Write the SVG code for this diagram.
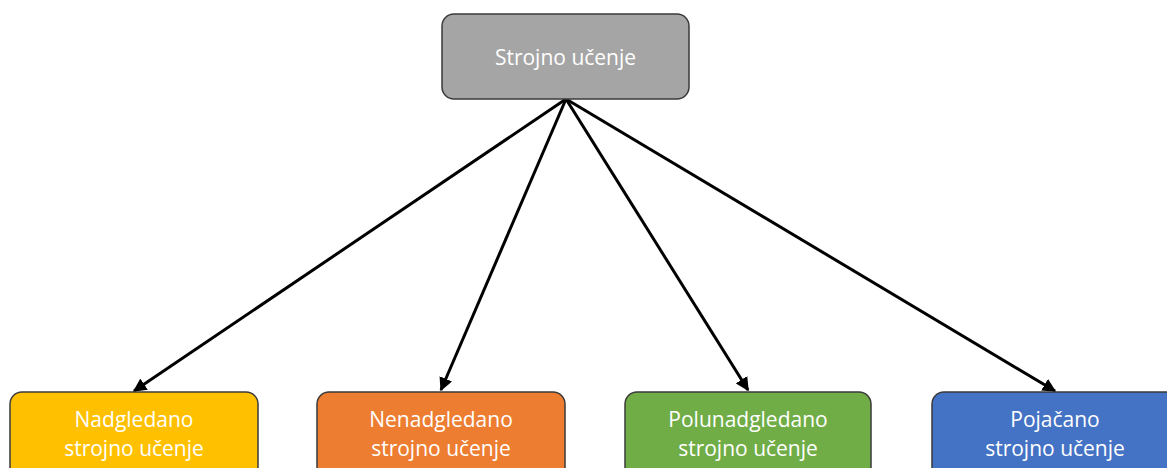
<svg xmlns="http://www.w3.org/2000/svg" width="1167" height="468" viewBox="0 0 1167 468">
<style>
.box{stroke:#3a3a3a;stroke-width:1.5}
.t{font-family:"Open Sans","Liberation Sans",sans-serif;font-size:21px;fill:#ffffff;text-anchor:middle}
.c{stroke:#000;stroke-width:3;fill:none;marker-end:url(#ah)}
</style>
<defs>
<marker id="ah" viewBox="0 0 10 10" refX="9" refY="5" markerWidth="4.5" markerHeight="4.5" orient="auto" markerUnits="strokeWidth">
<path d="M0,0 L10,5 L0,10 z" fill="#000"/>
</marker>
</defs>
<rect width="1167" height="468" fill="#fff"/>
<g id="connectors">
<line class="c" x1="566" y1="99" x2="134" y2="391"/>
<line class="c" x1="566" y1="99" x2="441" y2="390"/>
<line class="c" x1="566" y1="99" x2="748" y2="390"/>
<line class="c" x1="566" y1="99" x2="1055" y2="391"/>
</g>
<g id="root">
<rect class="box" x="442" y="14" width="247" height="85" rx="12" fill="#A5A5A5"/>
<text class="t" x="565.5" y="65">Strojno učenje</text>
</g>
<g id="supervised">
<rect class="box" x="10" y="392" width="248" height="90" rx="12" fill="#FFC000"/>
<text class="t" x="134" y="427">Nadgledano</text>
<text class="t" x="134" y="456">strojno učenje</text>
</g>
<g id="unsupervised">
<rect class="box" x="317" y="392" width="248" height="90" rx="12" fill="#ED7D31"/>
<text class="t" x="441" y="427">Nenadgledano</text>
<text class="t" x="441" y="456">strojno učenje</text>
</g>
<g id="semisupervised">
<rect class="box" x="625" y="392" width="246" height="90" rx="12" fill="#70AD47"/>
<text class="t" x="748" y="427">Polunadgledano</text>
<text class="t" x="748" y="456">strojno učenje</text>
</g>
<g id="reinforcement">
<rect class="box" x="932" y="392" width="248" height="90" rx="12" fill="#4472C4"/>
<text class="t" x="1055" y="427">Pojačano</text>
<text class="t" x="1055" y="456">strojno učenje</text>
</g>
</svg>
